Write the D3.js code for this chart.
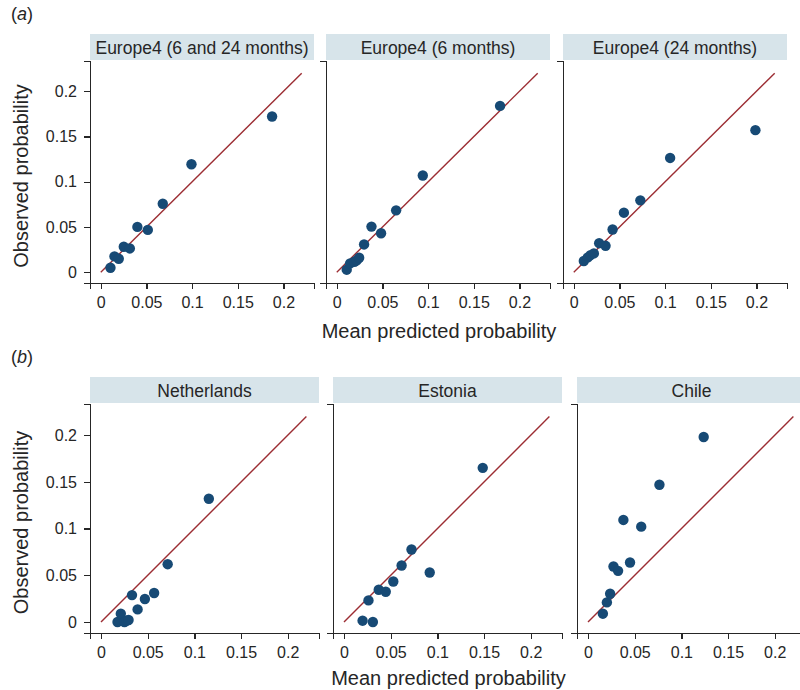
<!DOCTYPE html>
<html>
<head>
<meta charset="UTF-8">
<style>
  body { margin: 0; background: #fff; }
  svg text { font-family: "Liberation Sans", Arial, sans-serif; fill: #262626; }
  .axis path, .axis line { stroke: #262626; stroke-width: 1.3; shape-rendering: crispEdges; }
  .axis text { font-size: 16px; }
</style>
</head>
<body>
<script src="https://cdn.jsdelivr.net/npm/d3@7"></script>
<script>
// calibration points: [mean predicted, observed]
var europe4All = [[0.0106, 0.0051], [0.015, 0.0176], [0.0197, 0.015], [0.0252, 0.0282], [0.0318, 0.0264],
  [0.0401, 0.0502], [0.0515, 0.0469], [0.0679, 0.0758], [0.0993, 0.1194], [0.1876, 0.1722]];
var europe4Six = [[0.0109, 0.0029], [0.0146, 0.0099], [0.0193, 0.0117], [0.0219, 0.0132], [0.0245, 0.0161],
  [0.0299, 0.0308], [0.038, 0.0505], [0.0485, 0.0432], [0.065, 0.0685], [0.0942, 0.107], [0.1788, 0.1839]];
var europe4TwentyFour = [[0.011, 0.0125], [0.0154, 0.0165], [0.0183, 0.019], [0.022, 0.0209], [0.0278, 0.0322],
  [0.0348, 0.0293], [0.0425, 0.0473], [0.0549, 0.0659], [0.0729, 0.0795], [0.1055, 0.1264], [0.1989, 0.1571]];
var netherlands = [[0.0177, 0.0], [0.0212, 0.0089], [0.0251, 0.0], [0.0275, 0.0014], [0.0295, 0.0021],
  [0.0332, 0.0288], [0.0392, 0.0135], [0.047, 0.0246], [0.0569, 0.031], [0.0714, 0.0619], [0.1155, 0.132]];
var estonia = [[0.0199, 0.0014], [0.0309, 0.0], [0.0262, 0.0231], [0.0372, 0.0345], [0.0447, 0.0324],
  [0.0528, 0.0434], [0.0617, 0.0605], [0.0723, 0.0776], [0.0918, 0.053], [0.1486, 0.1651]];
var chile = [[0.0159, 0.0089], [0.0202, 0.021], [0.0237, 0.0302], [0.0273, 0.0594], [0.0322, 0.0548],
  [0.045, 0.0637], [0.0379, 0.1093], [0.057, 0.1021], [0.0765, 0.147], [0.1239, 0.1982]];

var titlesA = ["Europe4 (6 and 24 months)", "Europe4 (6 months)", "Europe4 (24 months)"];
var titlesB = ["Netherlands", "Estonia", "Chile"];
var tickValues = [0, 0.05, 0.1, 0.15, 0.2];
var tickLabels = ["0", "0.05", "0.1", "0.15", "0.2"];
var refLine = [0, 0.22];

var W = 800, H = 690;
var svg = d3.select("body").append("svg").attr("width", W).attr("height", H);

var rows = [
  { tag: "a", top: 34, size: [224, 222], lefts: [90, 326, 563], titles: titlesA,
    data: [europe4All, europe4Six, europe4TwentyFour] },
  { tag: "b", top: 377, size: [229, 229], lefts: [90, 333, 577], titles: titlesB,
    data: [netherlands, estonia, chile] }
];
var stripH = 27;
var domain = [-0.0118, 0.2335];

rows.forEach(function(row) {
  var pw = row.size[0], ph = row.size[1];
  var plotTop = row.top + stripH;

  svg.append("text")
    .attr("x", 11).attr("y", row.top - 14)
    .style("font-size", "18px")
    .html("(<tspan font-style='italic'>" + row.tag + "</tspan>)");

  row.data.forEach(function(pts, i) {
    var left = row.lefts[i];
    var x = d3.scaleLinear().domain(domain).range([left, left + pw]);
    var y = d3.scaleLinear().domain(domain).range([plotTop + ph, plotTop]);

    svg.append("rect")
      .attr("x", left).attr("y", row.top)
      .attr("width", pw).attr("height", stripH - 1)
      .attr("fill", "#d7e4ea");
    svg.append("text")
      .attr("x", left + pw / 2).attr("y", row.top + 19.5)
      .attr("text-anchor", "middle")
      .style("font-size", "17.5px")
      .text(row.titles[i]);

    svg.append("line")
      .attr("x1", x(refLine[0])).attr("y1", y(refLine[0]))
      .attr("x2", x(refLine[1])).attr("y2", y(refLine[1]))
      .attr("stroke", "#9c2d33").attr("stroke-width", 1.4);

    svg.append("g").selectAll("circle")
      .data(pts)
      .enter()
      .append("circle")
      .attr("cx", d => x(d[0]))
      .attr("cy", d => y(d[1]))
      .attr("r", 5.2)
      .attr("fill", "#174a75");

    var xAxis = d3.axisBottom(x).tickValues(tickValues)
      .tickFormat((d, j) => tickLabels[j]).tickSizeOuter(0).tickSize(6).tickPadding(8);
    svg.append("g")
      .attr("class", "axis")
      .attr("transform", `translate(0,${plotTop + ph})`)
      .call(xAxis);

    var yAxis = d3.axisLeft(y).tickValues(i === 0 ? tickValues : [])
      .tickFormat((d, j) => tickLabels[j]).tickSizeOuter(0).tickSize(6).tickPadding(7);
    svg.append("g")
      .attr("class", "axis")
      .attr("transform", `translate(${left},0)`)
      .call(yAxis);
  });

  var midX = row.lefts[1] + pw / 2;
  svg.append("text")
    .attr("x", midX + 1).attr("y", Math.min(plotTop + ph + 55, H - 5))
    .attr("text-anchor", "middle")
    .style("font-size", "20px")
    .text("Mean predicted probability");

  var midY = plotTop + ph / 2 + 4;
  svg.append("text")
    .attr("transform", `translate(28,${midY}) rotate(-90)`)
    .attr("text-anchor", "middle")
    .style("font-size", "20px")
    .text("Observed probability");
});
</script>
</body>
</html>
